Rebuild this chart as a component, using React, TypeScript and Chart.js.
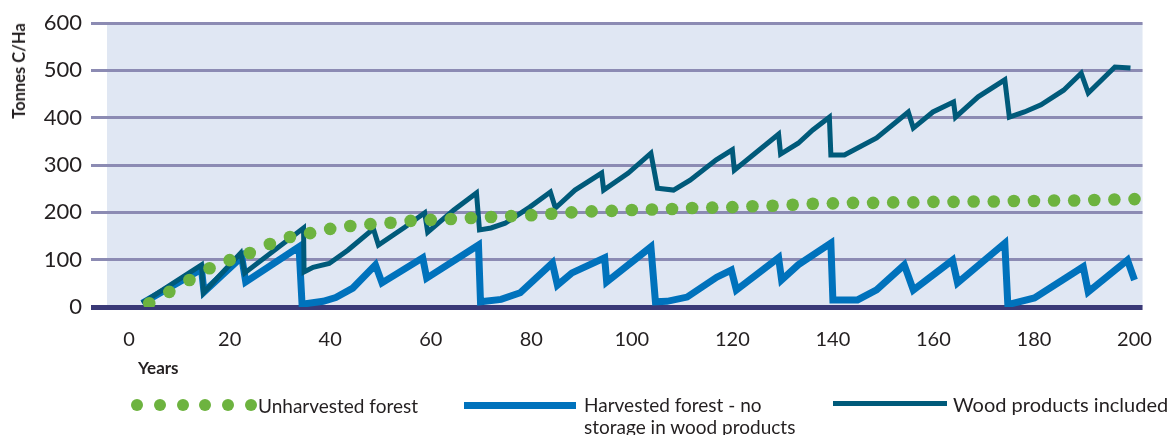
import React, { useEffect, useRef } from 'react';
import { Chart, registerables } from 'chart.js';

Chart.register(...registerables);

// ---- Data ----
const xTickValues = [0, 20, 40, 60, 80, 100, 120, 140, 160, 180, 200];
const yTickValues = [0, 100, 200, 300, 400, 500, 600];

const unharvestedYears = [
  4, 8, 12, 16, 20, 24, 28, 32, 36, 40, 44, 48, 52, 56, 60, 64, 68, 72, 76, 80,
  84, 88, 92, 96, 100, 104, 108, 112, 116, 120, 124, 128, 132, 136, 140, 144, 148, 152, 156, 160,
  164, 168, 172, 176, 180, 184, 188, 192, 196, 200,
];
const unharvestedValues = [
  8, 32, 57, 82, 99, 114, 133, 148, 156, 165, 171, 175, 178, 182, 184, 186, 188, 190, 192, 194,
  197, 200, 202, 203, 205, 206, 207, 209, 210, 211, 213, 214, 216, 218, 219, 220, 220, 221, 221, 222,
  222, 223, 223, 224, 224, 225, 225, 226, 227, 228,
];

const harvestedYears = [
  2.6, 14.4, 14.9, 22.4, 23.2, 33.8, 34.4, 38.6, 41.1, 44.5, 49, 50.3, 58.4, 59.2, 69.5, 69.9,
  74, 77.8, 84.2, 85.2, 88.1, 94.6, 95, 103.8, 104.7, 107, 111, 116.9, 119.8, 120.8, 129.2, 129.8,
  133.1, 139.6, 140, 144.9, 148.7, 154.2, 156, 163.8, 164.8, 174.2, 174.8, 180.1, 189.8, 190.8, 198.6, 200,
];
const harvestedValues = [
  8, 80, 32, 106, 53, 127, 6, 12, 20, 40, 89, 51, 104, 61, 131, 11,
  16, 30, 93, 46, 72, 104, 53, 127, 11, 12, 21, 63, 78, 36, 104, 57,
  89, 135, 15, 15, 36, 89, 36, 99, 51, 135, 5, 19, 85, 32, 99, 57,
];

const productsYears = [
  2.6, 14.4, 14.8, 22.2, 23, 34.7, 34.8, 36.6, 39.8, 43.5, 48.6, 49.6, 54.9, 58.8, 59.4, 64.6, 69.1, 69.7,
  72, 74.8, 79.7, 83.8, 84.8, 88.7, 94, 94.4, 99.3, 103.8, 105.1,
  108.3, 111.6, 116.8, 120, 120.4, 129.2, 129.6, 133.1, 136, 139.3, 139.6,
  142.3, 148.7, 155, 156, 159.9, 164, 164.4, 168.9, 174.2, 175.1,
  178.1, 181.4, 185.9, 189.4, 190.8, 196.1, 199.2,
];
const productsValues = [
  8, 89, 30, 114, 72, 167, 74, 84, 92, 120, 165, 131, 169, 199, 158, 205, 241, 163,
  167, 177, 211, 243, 209, 247, 283, 247, 283, 325, 251,
  247, 268, 311, 332, 289, 365, 323, 346, 374, 401, 321,
  321, 357, 412, 378, 412, 433, 401, 444, 480, 401,
  412, 427, 458, 494, 452, 507, 505,
];

const seriesLabels = [
  'Unharvested forest',
  'Harvested forest - no storage in wood products',
  'Wood products included',
];

// ---- Styles ----
const GREEN = '#6db33f';
const BLUE = '#0072bc';
const TEAL = '#005a7a';
const GRID = '#8c8bb3';
const ZERO = '#3a3977';
const PLOT_BG = '#e0e7f3';
const TEXT = '#231f20';
const FONT = 'Lato, "Open Sans", sans-serif';

const toPoints = (xs: number[], ys: number[]) => xs.map((x, i) => ({ x, y: ys[i] }));

const plotBackground = {
  id: 'plotBackground',
  beforeDraw(chart: any) {
    const { ctx, chartArea } = chart;
    ctx.save();
    ctx.fillStyle = PLOT_BG;
    ctx.fillRect(chartArea.left, chartArea.top, chartArea.right - chartArea.left, chartArea.bottom - chartArea.top);
    ctx.restore();
  },
};

export default function App() {
  const canvasRef = useRef<HTMLCanvasElement>(null);

  useEffect(() => {
    document.body.style.margin = '0';
    const canvas = canvasRef.current;
    if (!canvas) return;
    const gridColor = (c: any) => (c.tick && c.tick.value === 0 ? ZERO : GRID);
    const gridWidth = (c: any) => (c.tick && c.tick.value === 0 ? 5 : 3);
    const chart = new Chart(canvas, {
      type: 'line',
      data: {
        datasets: [
          {
            label: seriesLabels[0],
            data: toPoints(unharvestedYears, unharvestedValues),
            showLine: false,
            pointRadius: 6.3,
            pointBackgroundColor: GREEN,
            pointBorderWidth: 0,
            pointBorderColor: GREEN,
            order: 0,
          },
          {
            label: seriesLabels[2],
            data: toPoints(productsYears, productsValues),
            borderColor: TEAL,
            borderWidth: 5,
            pointRadius: 0,
            tension: 0,
            order: 1,
          },
          {
            label: seriesLabels[1],
            data: toPoints(harvestedYears, harvestedValues),
            borderColor: BLUE,
            borderWidth: 7,
            pointRadius: 0,
            tension: 0,
            order: 2,
          },
        ],
      },
      options: {
        animation: false,
        responsive: false,
        events: [],
        layout: { padding: { top: 23, right: 13, left: 0, bottom: 0 } },
        plugins: { legend: { display: false }, tooltip: { enabled: false } },
        scales: {
          x: {
            type: 'linear',
            min: -4.4,
            max: 201.6,
            afterBuildTicks: (s: any) => {
              s.ticks = xTickValues.map((v) => ({ value: v }));
            },
            afterFit: (s: any) => {
              s.height = 128;
            },
            grid: { display: false, drawTicks: false },
            border: { display: false },
            ticks: {
              padding: 21,
              autoSkip: false,
              maxRotation: 0,
              color: TEXT,
              font: { family: FONT, size: 20 },
            },
          },
          y: {
            type: 'linear',
            min: 0,
            max: 600,
            afterBuildTicks: (s: any) => {
              s.ticks = yTickValues.map((v) => ({ value: v }));
            },
            afterFit: (s: any) => {
              s.width = 107;
            },
            grid: {
              color: gridColor,
              lineWidth: gridWidth,
              tickColor: gridColor,
              tickWidth: gridWidth,
              drawTicks: true,
              tickLength: 16,
            },
            border: { display: false },
            ticks: {
              padding: 9,
              color: TEXT,
              font: { family: FONT, size: 22 },
            },
          },
        },
      } as any,
      plugins: [plotBackground],
    });
    return () => chart.destroy();
  }, []);

  const dotXs = [137, 160, 183, 205, 228, 251];

  return (
    <div
      style={{
        position: 'relative',
        width: 1173,
        height: 435,
        overflow: 'hidden',
        background: '#ffffff',
        fontFamily: FONT,
        color: TEXT,
      }}
    >
      <canvas ref={canvasRef} width={1173} height={435} style={{ position: 'absolute', left: 0, top: 0, display: 'block' }} />
      <div
        style={{
          position: 'absolute',
          left: 19,
          top: 71,
          transform: 'translate(-50%, -50%) rotate(-90deg)',
          whiteSpace: 'nowrap',
          fontWeight: 700,
          fontSize: 16.5,
        }}
      >
        Tonnes C/Ha
      </div>
      <div
        style={{
          position: 'absolute',
          left: 138,
          top: 367,
          transform: 'translateY(-50%)',
          whiteSpace: 'nowrap',
          fontWeight: 700,
          fontSize: 17,
        }}
      >
        Years
      </div>
      {dotXs.map((x) => (
        <div
          key={x}
          style={{
            position: 'absolute',
            left: x - 6,
            top: 405 - 6,
            width: 12,
            height: 12,
            borderRadius: '50%',
            background: GREEN,
          }}
        />
      ))}
      <div style={{ position: 'absolute', left: 258, top: 405, transform: 'translateY(-50%)', whiteSpace: 'nowrap', fontSize: 19 }}>
        {seriesLabels[0]}
      </div>
      <div style={{ position: 'absolute', left: 464, top: 402, width: 112, height: 7, background: BLUE }} />
      <div style={{ position: 'absolute', left: 584, top: 394, fontSize: 19, lineHeight: '22px', whiteSpace: 'nowrap' }}>
        Harvested forest - no
        <br />
        storage in wood products
      </div>
      <div style={{ position: 'absolute', left: 833, top: 401, width: 114, height: 5, background: TEAL }} />
      <div style={{ position: 'absolute', left: 953, top: 404, transform: 'translateY(-50%)', whiteSpace: 'nowrap', fontSize: 20 }}>
        {seriesLabels[2]}
      </div>
    </div>
  );
}
